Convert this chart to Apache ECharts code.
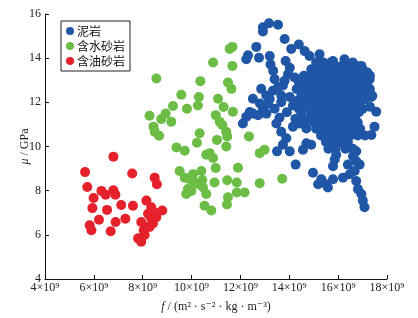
<!DOCTYPE html>
<html><head><meta charset="utf-8">
<script src="https://cdn.jsdelivr.net/npm/echarts@6/dist/echarts.min.js"></script>
<style>html,body{margin:0;padding:0;background:#fff}#c{width:418px;height:318px}</style>
</head><body><div id="c"></div>
<script>
// x in units of 1e9 m^2·s^-2·kg·m^-3, y in GPa
const seriesNames = ['泥岩', '含水砂岩', '含油砂岩'];
const xTicks = [4, 6, 8, 10, 12, 14, 16, 18];
const yTicks = [4, 6, 8, 10, 12, 14, 16];

const mudstone = [
 [12.92,15.40],[13.17,15.58],[13.54,15.51],[12.92,15.21],[13.81,14.87],[12.65,14.51],[12.31,14.13],[12.24,13.95],
 [12.76,14.02],[13.20,14.10],[13.23,13.72],[13.34,13.43],[13.85,13.87],[14.02,13.57],[14.08,14.42],[14.39,14.62],
 [14.63,14.32],[14.83,14.10],[12.85,12.61],[12.51,12.16],[13.06,12.31],[13.33,12.53],[13.54,12.68],[13.81,12.98],
 [13.67,12.31],[13.13,11.94],[12.92,11.71],[12.51,11.49],[12.24,11.34],[12.10,11.04],[12.38,11.56],[12.72,11.42],
 [13.06,11.49],[13.40,11.71],[13.67,12.01],[14.02,12.24],[14.15,11.86],[14.36,12.09],[13.47,11.04],[13.67,10.67],
 [13.88,10.37],[13.74,10.08],[14.02,9.78],[13.50,9.78],[14.26,9.18],[14.56,9.85],[14.70,10.15],[14.90,10.08],
 [14.15,10.90],[14.42,11.04],[14.70,10.82],[14.49,11.42],[14.97,8.81],[15.18,8.29],[15.31,8.52],[15.51,8.29],
 [15.58,8.14],[15.79,8.52],[15.79,9.11],[15.86,9.41],[15.92,9.63],[16.20,8.59],[16.47,8.74],[16.40,9.18],
 [16.61,9.56],[16.74,9.78],[16.68,8.89],[16.74,8.44],[16.81,8.07],[16.95,7.85],[17.01,7.55],[17.08,7.25],
 [16.88,9.18],[16.74,9.33],[17.36,10.52],[17.49,10.90],[17.56,11.57],[17.36,12.24],[17.29,13.05],[16.95,13.65],
 [16.26,13.95],[15.79,13.87],[15.24,14.18],[13.40,13.05],[13.74,12.76],[13.95,13.28],[14.22,13.13],[13.60,11.30],
 [13.90,11.55],[14.25,11.25],[13.20,12.15],[12.80,11.95],
 [15.1,13.8],[15.4,13.8],[15.7,13.8],[16.3,13.8],[16.6,13.8],
 [14.9,13.5],[15.2,13.5],[15.5,13.5],[15.8,13.5],[16.1,13.5],[16.4,13.5],[16.8,13.5],[17.0,13.5],
 [14.6,13.2],[14.9,13.2],[15.3,13.2],[15.6,13.2],[15.9,13.2],[16.2,13.2],[16.5,13.2],[16.8,13.2],[17.1,13.2],[17.3,13.2],
 [14.4,12.9],[14.8,12.9],[15.1,12.9],[15.4,12.9],[15.7,12.9],[16.0,12.9],[16.3,12.9],[16.6,12.9],[16.9,12.9],[17.2,12.9],
 [14.3,12.6],[14.6,12.6],[15.0,12.6],[15.3,12.6],[15.6,12.6],[15.9,12.6],[16.2,12.6],[16.5,12.6],[16.8,12.6],[17.1,12.6],[17.3,12.6],
 [14.5,12.3],[14.9,12.3],[15.2,12.3],[15.5,12.3],[15.8,12.3],[16.1,12.3],[16.4,12.3],[16.7,12.3],[17.0,12.3],[17.4,12.3],
 [14.7,12.0],[15.0,12.0],[15.4,12.0],[15.7,12.0],[16.0,12.0],[16.3,12.0],[16.6,12.0],[16.9,12.0],
 [14.4,11.7],[14.8,11.7],[15.1,11.7],[15.5,11.7],[15.8,11.7],[16.1,11.7],[16.4,11.7],[16.7,11.7],[17.0,11.7],[17.3,11.8],
 [14.9,11.4],[15.2,11.4],[15.5,11.4],[15.8,11.4],[16.1,11.4],[16.4,11.4],[16.7,11.4],
 [14.6,11.1],[15.0,11.1],[15.3,11.1],[15.6,11.1],[15.9,11.1],[16.2,11.1],[16.5,11.1],[16.8,11.1],
 [15.1,10.8],[15.4,10.8],[15.7,10.8],[16.0,10.8],[16.3,10.8],[16.6,10.8],[16.9,10.8],
 [15.3,10.5],[15.6,10.5],[15.9,10.5],[16.2,10.5],[16.5,10.5],[16.8,10.5],[17.1,10.5],
 [15.5,10.2],[15.8,10.2],[16.1,10.2],[16.4,10.2],
 [15.6,9.9],[15.9,9.9],[16.3,9.9],[16.6,9.9],
 [15.25,13.65],[15.55,13.65],[15.85,13.65],[16.15,13.65],[16.45,13.65],[16.75,13.65],
 [15.05,13.35],[15.35,13.35],[15.65,13.35],[15.95,13.35],[16.25,13.35],[16.6,13.35],[16.95,13.35],[17.2,13.35],
 [14.75,13.05],[15.05,13.05],[15.45,13.05],[15.75,13.05],[16.05,13.05],[16.35,13.05],[16.65,13.05],[16.95,13.05],
 [14.45,12.75],[14.95,12.75],[15.25,12.75],[15.55,12.75],[15.85,12.75],[16.15,12.75],[16.45,12.75],[16.75,12.75],[17.05,12.75],
 [14.75,12.45],[15.05,12.45],[15.35,12.45],[15.65,12.45],[15.95,12.45],[16.25,12.45],[16.55,12.45],[16.85,12.45],[17.2,12.45],
 [14.85,12.15],[15.2,12.15],[15.55,12.15],[15.85,12.15],[16.15,12.15],[16.45,12.15],[16.75,12.15],[17.1,12.15],
 [14.6,11.85],[14.95,11.85],[15.3,11.85],[15.6,11.85],[15.9,11.85],[16.2,11.85],[16.5,11.85],[16.8,11.85],
 [15.05,11.55],[15.35,11.55],[15.65,11.55],[15.95,11.55],[16.25,11.55],[16.55,11.55],[16.85,11.55],
 [14.8,11.25],[15.15,11.25],[15.45,11.25],[15.75,11.25],[16.05,11.25],[16.35,11.25],[16.65,11.25],
 [15.25,10.95],[15.55,10.95],[15.85,10.95],[16.15,10.95],[16.45,10.95],[16.75,10.95],
 [15.45,10.65],[15.75,10.65],[16.05,10.65],[16.35,10.65],[16.65,10.65],
 [15.65,10.35],[15.95,10.35],[16.25,10.35]
];

const waterSand = [
 [8.56,13.08],[8.28,11.39],[8.44,10.90],[8.49,10.67],[8.67,10.49],[8.76,11.24],[8.94,11.49],[9.17,11.12],
 [9.24,11.83],[9.38,9.96],[9.58,12.34],[9.72,9.81],[9.81,11.71],[9.51,8.89],[9.72,8.59],[9.78,7.85],
 [9.99,7.99],[9.92,8.52],[10.13,8.37],[10.22,10.17],[10.30,12.24],[10.26,11.86],[10.33,10.60],[10.36,12.96],
 [10.40,8.89],[10.44,8.48],[10.47,8.14],[10.60,7.85],[10.53,7.32],[10.81,7.10],[10.88,13.80],[10.60,9.63],
 [10.74,9.70],[10.88,9.48],[10.99,9.03],[10.94,8.37],[10.99,11.42],[11.08,12.16],[11.04,10.30],[11.15,11.12],
 [11.26,10.97],[11.31,11.79],[11.42,10.67],[11.49,12.90],[11.46,10.45],[11.42,10.00],[11.46,8.47],[11.49,7.70],
 [11.45,7.37],[11.56,14.42],[11.67,14.51],[11.67,13.65],[11.63,12.61],[11.69,11.57],[11.85,8.37],[11.90,9.04],
 [11.85,7.92],[12.17,7.92],[12.35,10.45],[12.79,9.70],[12.99,9.85],[12.79,8.34],[13.71,8.54],
 [10.06,8.74],[10.30,8.29],[9.85,8.07]
];

const oilSand = [
 [5.64,8.84],[5.73,8.17],[5.99,7.67],[5.94,7.21],[5.83,6.43],[5.90,6.21],[6.21,6.68],[6.31,7.99],
 [6.48,7.82],[6.54,7.13],[6.69,6.16],[6.80,8.02],[6.88,7.82],[6.80,9.54],[6.89,6.58],[7.12,7.35],
 [7.29,6.73],[7.57,8.78],[7.60,7.32],[7.81,5.84],[7.94,5.69],[8.08,5.99],[7.94,6.58],[8.15,7.55],
 [8.22,6.95],[8.35,7.25],[8.42,6.51],[8.56,6.80],[8.49,8.59],[8.58,8.29],[8.80,7.10],[8.28,6.36],
 [8.12,6.36],[8.46,7.03],[8.35,6.73],[8.04,6.21]
];

const colors = ['#1f56a6', '#6cbd45', '#e5222b'];
const serif = '"Liberation Serif","DejaVu Serif",serif';
const cjk = '"Noto Sans CJK SC","Liberation Serif",serif';

const chart = echarts.init(document.getElementById('c'));
chart.setOption({
  animation: false,
  backgroundColor: '#fff',
  grid: {left: 45, right: 31, top: 14, bottom: 35},
  legend: {
    data: seriesNames,
    left: 61, top: 21, orient: 'vertical',
    icon: 'circle', itemWidth: 8, itemHeight: 8, itemGap: 3,
    padding: [4, 5, 4, 5],
    borderColor: '#222', borderWidth: 1,
    textStyle: {fontFamily: cjk, fontSize: 12, color: '#111', padding: [0, 0, 0, -2]}
  },
  xAxis: {
    type: 'value', min: xTicks[0], max: xTicks[xTicks.length - 1], interval: 2,
    splitLine: {show: false},
    axisLine: {lineStyle: {color: '#111', width: 1}},
    axisTick: {inside: true, length: 4, lineStyle: {color: '#111'}},
    axisLabel: {fontFamily: serif, fontSize: 12, color: '#222', margin: 3,
      formatter: v => v + '×10⁹'},
    name: '{i|f} / (m² · s⁻² · kg · m⁻³)', nameLocation: 'middle', nameGap: 22,
    nameMoveOverlap: false,
    nameTextStyle: {fontFamily: serif, fontSize: 12, color: '#222',
      rich: {i: {fontStyle: 'italic', fontFamily: serif, fontSize: 12, color: '#222'}}}
  },
  yAxis: {
    type: 'value', min: yTicks[0], max: yTicks[yTicks.length - 1], interval: 2,
    splitLine: {show: false},
    axisLine: {show: true, lineStyle: {color: '#111', width: 1}},
    axisTick: {show: true, inside: true, length: 4, lineStyle: {color: '#111'}},
    axisLabel: {fontFamily: serif, fontSize: 12, color: '#222', margin: 4},
    name: '{i|μ} / GPa', nameLocation: 'middle', nameGap: 14,
    nameMoveOverlap: false,
    nameTextStyle: {fontFamily: serif, fontSize: 12, color: '#222',
      rich: {i: {fontStyle: 'italic', fontFamily: serif, fontSize: 12, color: '#222'}}}
  },
  series: [
    {name: seriesNames[0], type: 'scatter', data: mudstone, symbolSize: 10, itemStyle: {color: colors[0], opacity: 1}, z: 3},
    {name: seriesNames[1], type: 'scatter', data: waterSand, symbolSize: 10, itemStyle: {color: colors[1], opacity: 1}, z: 2},
    {name: seriesNames[2], type: 'scatter', data: oilSand, symbolSize: 10, itemStyle: {color: colors[2], opacity: 1}, z: 2}
  ]
});
</script></body></html>
